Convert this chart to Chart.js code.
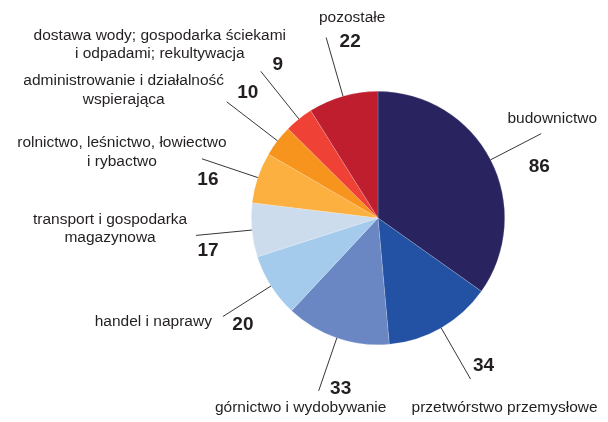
<!DOCTYPE html>
<html>
<head>
<meta charset="utf-8">
<script src="https://cdn.jsdelivr.net/npm/chart.js@4/dist/chart.umd.min.js"></script>
<style>
  html, body { margin: 0; padding: 0; background: #fff; }
  #wrap { width: 608px; height: 422px; }
</style>
</head>
<body>
<div id="wrap"><canvas id="pie"></canvas></div>
<script>
const sectors = [
  ['budownictwo'],
  ['przetwórstwo przemysłowe'],
  ['górnictwo i wydobywanie'],
  ['handel i naprawy'],
  ['transport i gospodarka', 'magazynowa'],
  ['rolnictwo, leśnictwo, łowiectwo', 'i rybactwo'],
  ['administrowanie i działalność', 'wspierająca'],
  ['dostawa wody; gospodarka ściekami', 'i odpadami; rekultywacja'],
  ['pozostałe']
]
const values = [86, 34, 33, 20, 17, 16, 10, 9, 22]
const colors = ['#29245f', '#2351a3', '#6a87c4', '#a4cbeb', '#cddced',
  '#fbb040', '#f7941d', '#ef4136', '#be1e2d']

// leader line length and text offsets (from line end), per slice
const lineLen = [57, 59, 56, 57, 56, 59, 64, 61, 61]
const numOff = [[-2, 33], [13, -13], [22, -2], [20, 8], [12, 15], [6, 21], [21, -9], [17, -7], [24, 4]]
const txtOff = [[11, -15], [34, 29], [-18, 17], [-11, 5], [-86, -16], [-80, -16], [-103, -21], [-101, -36], [26, -20]]
const txtAlign = ['center', 'center', 'center', 'right', 'center', 'center', 'center', 'center', 'center']

const labelPlugin = {
  id: 'leaders',
  afterDraw(chart) {
    const ctx = chart.ctx
    const arcs = chart.getDatasetMeta(0).data
    ctx.save()
    arcs.forEach((arc, i) => {
      const mid = (arc.startAngle + arc.endAngle) / 2
      const r = arc.outerRadius
      const x0 = arc.x + Math.cos(mid) * r
      const y0 = arc.y + Math.sin(mid) * r
      const x1 = arc.x + Math.cos(mid) * (r + lineLen[i])
      const y1 = arc.y + Math.sin(mid) * (r + lineLen[i])
      ctx.strokeStyle = '#231f20'
      ctx.lineWidth = 0.9
      ctx.beginPath()
      ctx.moveTo(x0, y0)
      ctx.lineTo(x1, y1)
      ctx.stroke()

      ctx.fillStyle = '#231f20'
      ctx.textBaseline = 'middle'
      ctx.textAlign = 'center'
      ctx.font = 'bold 19px "Liberation Sans", Arial, sans-serif'
      ctx.fillText(String(values[i]), x1 + numOff[i][0], y1 + numOff[i][1])

      ctx.font = '15.5px "Liberation Sans", Arial, sans-serif'
      ctx.textAlign = txtAlign[i]
      sectors[i].forEach((line, k) => {
        ctx.fillText(line, x1 + txtOff[i][0], y1 + txtOff[i][1] + k * 18.5)
      })
    })
    ctx.restore()
  }
}

new Chart(document.getElementById('pie'), {
  type: 'pie',
  data: {
    labels: sectors.map(s => s.join(' ')),
    datasets: [{
      data: values,
      backgroundColor: colors,
      borderColor: 'rgba(255,255,255,0.35)',
      borderWidth: 0.5
    }]
  },
  options: {
    responsive: true,
    maintainAspectRatio: false,
    animation: false,
    layout: { padding: { top: 91, bottom: 77, left: 251, right: 103 } },
    plugins: {
      legend: { display: false },
      tooltip: { enabled: false }
    }
  },
  plugins: [labelPlugin]
})
</script>
</body>
</html>
